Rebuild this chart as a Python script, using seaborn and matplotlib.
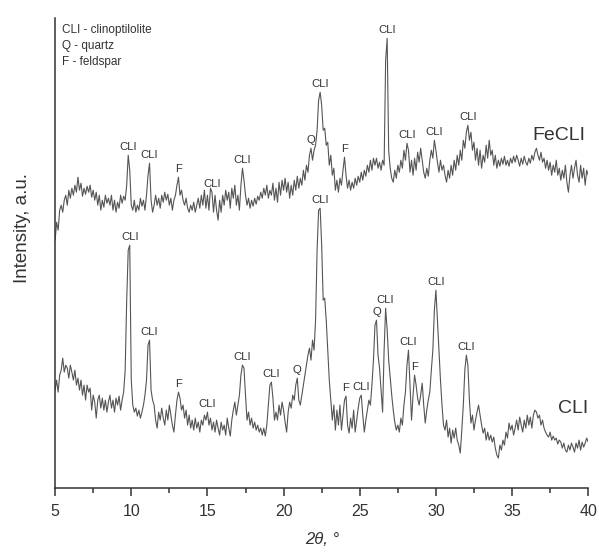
import numpy as np
import pandas as pd
import seaborn as sns
import matplotlib.pyplot as plt

# 2theta grid of the scan (step 0.1 deg)
two_theta = np.round(np.arange(5.0, 40.01, 0.1), 1)

# CLI sample, intensity in a.u.
cli = [98, 108, 96, 113, 118, 130, 116, 123, 120, 110,
       123, 116, 108, 118, 103, 110, 98, 108, 93, 103,
       88, 103, 96, 100, 78, 93, 86, 70, 88, 93,
       80, 90, 78, 88, 76, 86, 93, 80, 88, 76,
       90, 83, 92, 78, 88, 96, 118, 188, 238, 243,
       108, 83, 76, 80, 72, 78, 70, 76, 83, 93,
       108, 143, 148, 98, 88, 83, 68, 60, 76, 68,
       80, 70, 63, 78, 68, 83, 73, 63, 56, 73,
       88, 96, 90, 78, 83, 70, 78, 63, 73, 60,
       68, 58, 70, 60, 66, 56, 68, 63, 73, 68,
       76, 63, 70, 58, 66, 56, 68, 60, 53, 66,
       58, 63, 53, 70, 60, 52, 68, 78, 86, 73,
       83, 93, 113, 123, 120, 93, 68, 76, 63, 70,
       60, 66, 58, 63, 56, 60, 53, 60, 52, 63,
       83, 103, 106, 90, 68, 76, 68, 83, 73, 86,
       78, 66, 56, 76, 86, 80, 93, 88, 103, 110,
       88, 83, 93, 103, 113, 123, 133, 140, 128, 148,
       138, 168, 238, 278, 280, 243, 188, 190, 168, 138,
       108, 88, 68, 83, 58, 78, 63, 83, 58, 73,
       88, 92, 63, 55, 70, 60, 78, 56, 68, 80,
       90, 93, 73, 56, 68, 78, 88, 83, 103, 128,
       163, 168, 133, 120, 98, 76, 138, 180, 158, 128,
       110, 93, 78, 66, 58, 63, 56, 70, 63, 83,
       96, 123, 138, 103, 68, 93, 113, 103, 90, 83,
       93, 105, 83, 65, 78, 88, 96, 118, 138, 178,
       198, 168, 136, 108, 83, 63, 58, 68, 51, 60,
       45, 58, 50, 60, 48, 43, 35, 58, 83, 118,
       133, 123, 88, 65, 73, 58, 68, 76, 83, 73,
       63, 55, 60, 48, 56, 48, 53, 46, 51, 40,
       33, 30, 43, 38, 48, 43, 56, 50, 65, 58,
       63, 53, 60, 68, 58, 71, 63, 56, 68, 60,
       73, 63, 71, 60, 73, 78, 76, 70, 73, 63,
       68, 60, 56, 53, 51, 56, 48, 52, 48, 50,
       44, 48, 46, 40, 45, 38, 36, 43, 38, 45,
       41, 36, 45, 40, 48, 38, 46, 41, 45, 50,
       46]

# FeCLI sample (shifted up in the original plot)
fecli = [248, 266, 258, 278, 283, 276, 288, 293, 283, 298,
         290, 300, 293, 303, 296, 311, 298, 305, 292, 300,
         294, 302, 296, 303, 291, 298, 288, 296, 283, 293,
         278, 288, 281, 293, 285, 290, 283, 293, 278, 288,
         276, 286, 280, 293, 285, 292, 288, 303, 333, 318,
         283, 278, 288, 276, 283, 278, 290, 282, 288, 278,
         293, 313, 325, 288, 276, 283, 293, 283, 290, 280,
         293, 286, 296, 288, 294, 283, 290, 278, 288, 293,
         303, 311, 293, 298, 288, 283, 290, 280, 276, 283,
         278, 286, 276, 283, 290, 280, 293, 283, 298, 280,
         293, 278, 300, 296, 276, 293, 278, 268, 288, 276,
         293, 283, 298, 288, 296, 280, 300, 290, 303, 283,
         293, 278, 303, 320, 308, 293, 283, 290, 280, 288,
         282, 290, 284, 292, 288, 296, 290, 300, 293, 303,
         290, 298, 293, 305, 288, 300, 286, 306, 293, 308,
         298, 310, 296, 306, 290, 303, 293, 308, 298, 312,
         300, 310, 303, 318, 308, 323, 316, 333, 340, 328,
         338, 343, 358, 388, 396, 383, 358, 360, 343, 346,
         323, 333, 313, 320, 298, 308, 296, 310, 303, 318,
         331, 313, 300, 308, 298, 306, 300, 310, 303, 312,
         306, 316, 308, 318, 312, 323, 316, 328, 318, 330,
         323, 330, 320, 326, 318, 328, 323, 428, 450, 338,
         320, 310, 306, 318, 310, 323, 316, 328, 320, 338,
         328, 345, 338, 316, 328, 313, 330, 318, 336, 326,
         340, 328, 316, 310, 320, 312, 328, 338, 330, 348,
         338, 326, 316, 328, 318, 323, 313, 306, 318, 310,
         323, 313, 328, 318, 333, 323, 338, 328, 348, 340,
         356, 363, 348, 356, 338, 346, 328, 340, 323, 338,
         320, 333, 326, 343, 330, 348, 333, 338, 323, 333,
         320, 328, 322, 330, 324, 332, 323, 328, 322, 330,
         325, 332, 326, 333, 328, 322, 330, 324, 332, 326,
         323, 330, 325, 333, 328, 336, 340, 333, 328, 336,
         326, 330, 320, 328, 318, 326, 313, 323, 316, 328,
         313, 320, 308, 318, 310, 323, 306, 296, 313, 323,
         310, 320, 328, 313, 306, 323, 310, 320, 303, 318,
         313]

# phase labels over the peaks
peaks_fecli = [(9.8, 'CLI'), (11.2, 'CLI'), (13.1, 'F'), (15.3, 'CLI'),
               (17.3, 'CLI'), (21.8, 'Q'), (22.4, 'CLI'), (24.0, 'F'),
               (26.8, 'CLI'), (28.1, 'CLI'), (29.9, 'CLI'), (32.1, 'CLI')]
peaks_cli = [(9.9, 'CLI'), (11.2, 'CLI'), (13.1, 'F'), (15.0, 'CLI'),
             (17.3, 'CLI'), (19.2, 'CLI'), (20.9, 'Q'), (22.4, 'CLI'),
             (24.1, 'F'), (25.1, 'CLI'), (26.1, 'Q'), (26.7, 'CLI'),
             (28.2, 'CLI'), (28.6, 'F'), (30.0, 'CLI'), (32.0, 'CLI')]

df = pd.DataFrame({'2theta': np.concatenate([two_theta, two_theta]),
                   'I': cli + fecli,
                   'sample': ['CLI'] * len(cli) + ['FeCLI'] * len(fecli)})

sns.set_style('ticks')
plt.rcParams['font.family'] = ['Liberation Sans', 'DejaVu Sans']

fig = plt.figure(figsize=(5.99, 5.54), dpi=100)
ax = fig.add_axes([0.092, 0.119, 0.89, 0.848])
sns.lineplot(data=df, x='2theta', y='I', hue='sample', units='sample',
             estimator=None, palette=['#555555', '#555555'], lw=0.8,
             legend=False, ax=ax)

for peaks, ys in ((peaks_fecli, fecli), (peaks_cli, cli)):
    for x, lab in peaks:
        i = int(round((x - 5.0) * 10))
        ax.annotate(lab, xy=(x, ys[i]), xytext=(0, 2), textcoords='offset points',
                    ha='center', va='bottom', fontsize=8.2, color='#333333')

ax.text(38.1, 353, 'FeCLI', ha='center', va='center', fontsize=14, color='#333333')
ax.text(38.98, 80, 'CLI', ha='center', va='center', fontsize=14, color='#333333')
ax.text(0.013, 0.987, 'CLI - clinoptilolite\nQ - quartz\nF - feldspar',
        transform=ax.transAxes, ha='left', va='top', fontsize=8.5,
        linespacing=1.45, color='#333333')

ax.set_xlim(5, 40)
ax.set_ylim(0, 470)
ax.set_xticks(range(5, 41, 5))
ax.set_xticks(np.arange(7.5, 40, 5), minor=True)
ax.set_yticks([])
ax.tick_params(axis='x', which='major', length=5.5, width=1.1, pad=6,
               labelsize=11.5, colors='#333333')
ax.tick_params(axis='x', which='minor', length=3.5, width=1.1, colors='#333333')
for s in ('left', 'bottom'):
    ax.spines[s].set_linewidth(1.1)
    ax.spines[s].set_color('#333333')
sns.despine(ax=ax)
ax.set_xlabel('2θ, °', fontsize=12, style='italic', labelpad=9, color='#333333')
ax.set_ylabel('Intensity, a.u.', fontsize=13.5, color='#333333')
ax.yaxis.set_label_coords(-0.045, 0.553)

fig.savefig('out.png', dpi=100)
